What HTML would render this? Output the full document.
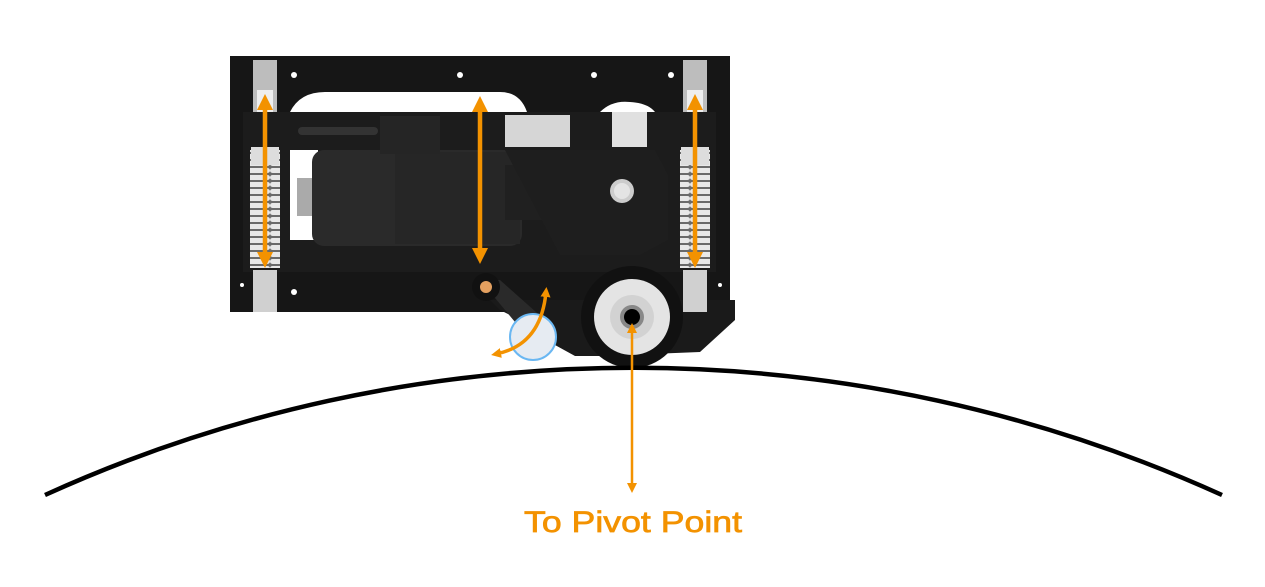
<!DOCTYPE html>
<html><head><style>html,body{margin:0;padding:0;background:#fff;}svg{display:block}</style></head>
<body>
<svg width="1265" height="587" viewBox="0 0 1265 587" xmlns="http://www.w3.org/2000/svg">
<defs>
<marker id="ah" markerWidth="16" markerHeight="16" refX="8" refY="8" orient="auto-start-reverse" markerUnits="userSpaceOnUse" viewBox="0 0 16 16"><path d="M0,0 L16,8 L0,16 z" fill="#f39200"/></marker>
<marker id="as" markerWidth="10" markerHeight="10" refX="5" refY="5" orient="auto-start-reverse" markerUnits="userSpaceOnUse" viewBox="0 0 10 10"><path d="M0,0 L10,5 L0,10 z" fill="#f39200"/></marker>
<pattern id="spring" width="30" height="7" patternUnits="userSpaceOnUse"><rect width="30" height="7" fill="#6a6a6a"/><rect y="0" width="30" height="5" rx="2.5" fill="#e8e8e8"/></pattern>
</defs>
<rect x="230" y="56" width="500" height="256" fill="#161616"/>
<path d="M490,300 L735,300 L735,320 L700,352 L600,356 L575,356 L555,345 L520,320 L500,310 Z" fill="#1a1a1a"/>
<path d="M290,112 Q300,92 325,92 L500,92 Q520,92 527,112 Z" fill="#fff"/>
<path d="M600,112 Q612,100 630,102 Q648,103 655,112 Z" fill="#fff"/>
<rect x="243" y="112" width="473" height="160" fill="#1c1c1c"/>
<rect x="290" y="150" width="28" height="90" fill="#fff"/>
<rect x="297" y="178" width="18" height="38" fill="#aaa"/>
<rect x="312" y="150" width="210" height="96" rx="12" fill="#2a2a2a"/>
<rect x="395" y="152" width="125" height="92" fill="#262626"/>
<rect x="380" y="116" width="60" height="38" fill="#252525"/>
<rect x="505" y="165" width="40" height="55" fill="#202020"/>
<path d="M505,150 L655,150 L668,175 L668,240 L640,255 L560,255 Z" fill="#1e1e1e"/>
<circle cx="622" cy="191" r="12" fill="#ccc"/><circle cx="622" cy="191" r="8" fill="#e4e4e4"/>
<rect x="505" y="115" width="65" height="32" fill="#d6d6d6"/>
<rect x="612" y="112" width="35" height="35" fill="#e0e0e0"/>
<rect x="298" y="127" width="80" height="8" rx="4" fill="#333"/>
<rect x="253" y="60" width="24" height="52" fill="#bdbdbd"/><rect x="257" y="90" width="16" height="22" fill="#eee"/>
<rect x="253" y="270" width="24" height="42" fill="#d0d0d0"/>
<rect x="250" y="150" width="30" height="118" fill="url(#spring)"/>
<rect x="251" y="147" width="28" height="18" fill="#ddd"/>
<rect x="683" y="60" width="24" height="52" fill="#bdbdbd"/><rect x="687" y="90" width="16" height="22" fill="#eee"/>
<rect x="683" y="270" width="24" height="42" fill="#d0d0d0"/>
<rect x="680" y="150" width="30" height="118" fill="url(#spring)"/>
<rect x="681" y="147" width="28" height="18" fill="#ddd"/>
<g fill="#fff"><circle cx="294" cy="75" r="3"/><circle cx="460" cy="75" r="3"/><circle cx="594" cy="75" r="3"/><circle cx="671" cy="75" r="3"/><circle cx="294" cy="292" r="3"/><circle cx="242" cy="285" r="2"/><circle cx="720" cy="285" r="2"/></g>
<path d="M480,280 L500,280 L545,320 L530,340 Z" fill="#2a2a2a"/>
<circle cx="486" cy="287" r="14" fill="#111"/><circle cx="486" cy="287" r="6" fill="#e3a060"/>
<circle cx="533" cy="337" r="23" fill="#e6ebf2" stroke="#6ab7f2" stroke-width="2"/>
<circle cx="632" cy="317" r="51" fill="#111"/>
<circle cx="632" cy="317" r="38" fill="#e4e4e4"/>
<circle cx="632" cy="317" r="22" fill="#d2d2d2"/>
<circle cx="632" cy="317" r="12" fill="#888"/>
<circle cx="632" cy="317" r="8" fill="#000"/>
<path d="M45,495 A1425,1425 0 0 1 1222,495" fill="none" stroke="#000" stroke-width="4.5"/>
<g stroke="#f39200" stroke-width="4.5" fill="none">
<line x1="265" y1="102" x2="265" y2="260" marker-start="url(#ah)" marker-end="url(#ah)"/>
<line x1="480" y1="104" x2="480" y2="256" marker-start="url(#ah)" marker-end="url(#ah)"/>
<line x1="695" y1="102" x2="695" y2="260" marker-start="url(#ah)" marker-end="url(#ah)"/>
<path d="M546,292 Q541,345 496,354" stroke-width="3.5" marker-start="url(#as)" marker-end="url(#as)"/>
</g>
<line x1="632" y1="328" x2="632" y2="488" stroke="#f39200" stroke-width="2.5" marker-start="url(#as)" marker-end="url(#as)"/>
<text x="524" y="532" font-family="Liberation Sans, sans-serif" font-size="30" fill="#f39200" stroke="#f39200" stroke-width="0.7" textLength="218" lengthAdjust="spacingAndGlyphs">To Pivot Point</text>
</svg>
</body></html>
